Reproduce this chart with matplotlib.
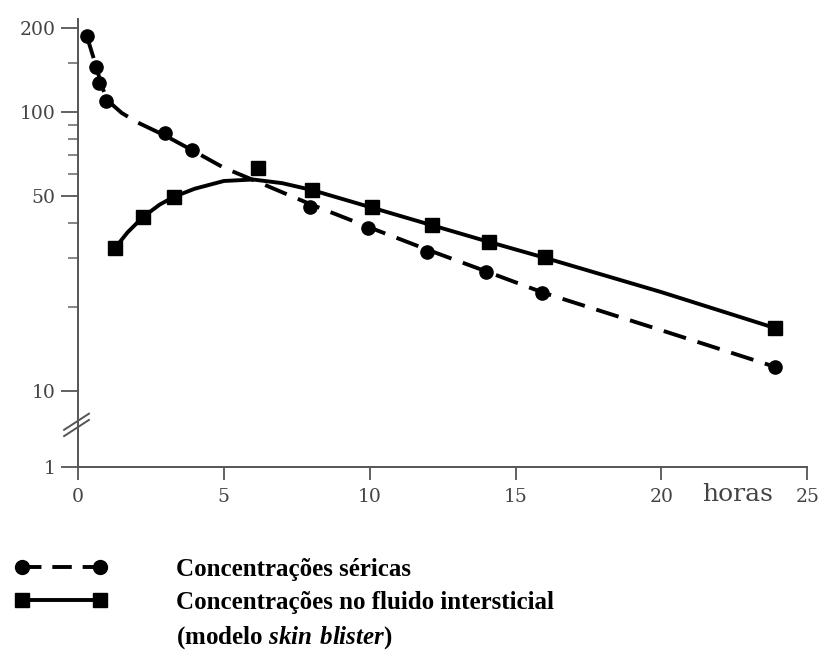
import numpy as np
import matplotlib
matplotlib.use("Agg")
import matplotlib.pyplot as plt
from matplotlib.lines import Line2D
from matplotlib.ticker import FixedLocator, FixedFormatter, NullFormatter
from matplotlib.font_manager import FontProperties

plt.rcParams['mathtext.fontset'] = 'custom'
plt.rcParams['mathtext.rm'] = 'Liberation Serif:bold'
plt.rcParams['mathtext.bfit'] = 'Liberation Serif:italic:bold'

# measured points (hours, concentration)
serum_t = [0.3, 0.62, 0.72, 0.96, 3.0, 3.9, 7.95, 9.93, 11.95, 14.0, 15.9, 23.9]
serum_c = [187, 145, 127, 109, 84, 73, 45.6, 38.4, 31.5, 26.7, 22.4, 12.2]
fluid_t = [1.27, 2.23, 3.29, 6.16, 8.01, 10.07, 12.12, 14.1, 16.0, 23.9]
fluid_c = [32.5, 42, 49.6, 63, 52.5, 45.6, 39.4, 34.2, 30.2, 16.8]

# fitted curves
serum_fit_t = [0.3, 0.6, 0.8, 1.0, 1.5, 2.0, 3.0, 4.0, 5.0, 6.0, 8.0, 10, 12, 14, 16, 20, 23.9]
serum_fit_c = [187, 148, 125, 110, 99, 92, 82, 72, 63, 57, 46.5, 38.5, 32, 26.8, 22.4, 16.5, 12.2]
fluid_fit_t = [1.27, 1.7, 2.23, 2.8, 3.29, 4.0, 5.0, 6.0, 7.0, 8.0, 10, 12, 14, 16, 20, 23.9]
fluid_fit_c = [32.5, 37, 42, 46.5, 49.6, 53, 56.5, 57.2, 55.5, 52.5, 45.6, 39.6, 34.4, 30.0, 22.6, 16.8]

y_major = [1, 10, 50, 100, 200]
y_minor = [20, 30, 40, 60, 70, 80, 90, 150]
x_ticks = [0, 5, 10, 15, 20, 25]

K = 0.272  # compression of the 1..10 decade (axis break)


def fwd(y):
    y = np.asarray(y, float)
    ly = np.log10(np.clip(y, 1e-3, None))
    return np.where(ly >= 1, ly, 1 - (1 - ly) * K)


def inv(v):
    v = np.asarray(v, float)
    ly = np.where(v >= 1, v, 1 - (1 - v) / K)
    return 10 ** ly


fig = plt.figure(figsize=(8.26, 6.6), dpi=100)
ax = fig.add_axes([0.0944, 0.2924, 0.883, 0.679])
ax.set_yscale('function', functions=(fwd, inv))

ax.plot(serum_fit_t, serum_fit_c, color='black', lw=2.8, dashes=(6, 3.1))
ax.plot(fluid_fit_t, fluid_fit_c, color='black', lw=2.8)
ax.plot(serum_t, serum_c, 'o', color='black', ms=9.5)
ax.plot(fluid_t, fluid_c, 's', color='black', ms=9.5)

ax.set_xlim(0, 25)
ax.set_ylim(1, 215)

ax.yaxis.set_major_locator(FixedLocator(y_major))
ax.yaxis.set_major_formatter(FixedFormatter([str(v) for v in y_major]))
ax.yaxis.set_minor_locator(FixedLocator(y_minor))
ax.yaxis.set_minor_formatter(NullFormatter())
ax.set_xticks(x_ticks)
ax.set_xticklabels([str(v) for v in x_ticks])
for lab in ax.get_xticklabels() + ax.get_yticklabels():
    lab.set_fontfamily('DejaVu Serif')
    lab.set_fontsize(13.5)
    lab.set_color('#444444')

ax.tick_params(axis='y', which='major', length=12, width=1.3, color='#555555', pad=4)
ax.tick_params(axis='y', which='minor', length=7, width=1.1, color='#666666')
ax.tick_params(axis='x', which='major', length=9, width=1.3, color='#555555', pad=6)

for s in ['top', 'right']:
    ax.spines[s].set_visible(False)
for s in ['left', 'bottom']:
    ax.spines[s].set_color('#555555')
    ax.spines[s].set_linewidth(1.4)

ax.text(22.6, -0.035, 'horas', transform=ax.get_xaxis_transform(), ha='center', va='top',
        family='DejaVu Serif', size=18, color='#444444')

# axis break marks on the y axis
yb = 0.094
for off in (-0.007, 0.007):
    ax.plot([-0.019, 0.015], [yb + off - 0.018, yb + off + 0.018], transform=ax.transAxes,
            color='#555555', lw=1.4, clip_on=False)

handles = [
    Line2D([], [], color='black', lw=2.8, dashes=(5, 2.8), marker='o', ms=10),
    Line2D([], [], color='black', lw=2.8, marker='s', ms=10),
    Line2D([], [], linestyle='none'),
]
labels = [
    'Concentrações séricas',
    'Concentrações no fluido intersticial',
    '(modelo $\\mathbfit{skin\\ blister}$)',
]
fig.legend(handles, labels, loc='upper left', bbox_to_anchor=(14 / 826, 1 - 558 / 660),
           frameon=False, numpoints=2, handlelength=3.76, handletextpad=2.7,
           labelspacing=0.4, borderpad=0, borderaxespad=0,
           prop=FontProperties(family='Liberation Serif', weight='bold', size=18))

fig.savefig('out.png', dpi=100)
